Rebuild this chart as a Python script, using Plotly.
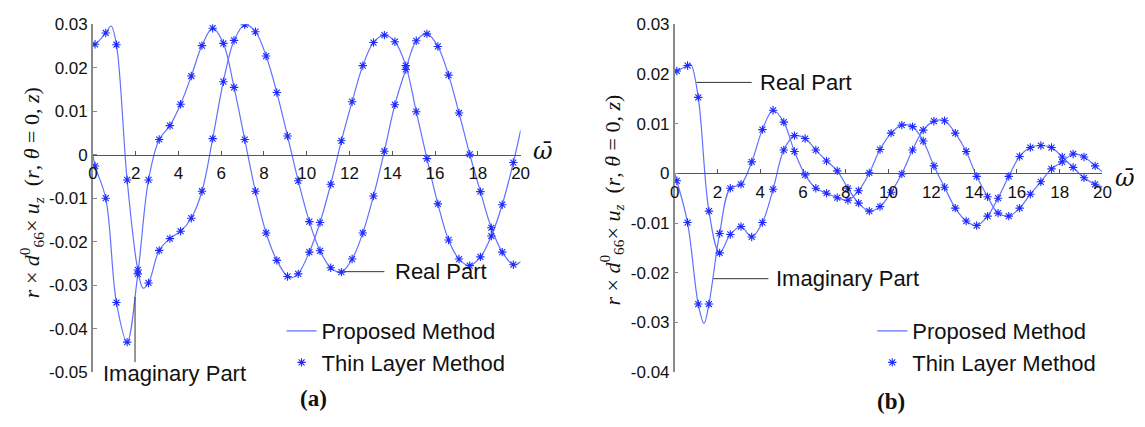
import plotly.graph_objects as go

# ---------------- data ----------------
# x positions of the Thin Layer Method markers
x_markers = [0.1, 0.6, 1.1, 1.6, 2.1, 2.6, 3.1, 3.6, 4.1, 4.6, 5.1, 5.6, 6.1, 6.6,
             7.1, 7.6, 8.1, 8.6, 9.1, 9.6, 10.12, 10.62, 11.12, 11.62, 12.12, 12.62,
             13.12, 13.63, 14.12, 14.63, 15.12, 15.62, 16.13, 16.63, 17.12, 17.62,
             18.12, 18.63, 19.14, 19.66]

# panel (a)
a_real = [0.0254, 0.0280, 0.0253, -0.0058, -0.0265, -0.0295, -0.0220, -0.0193, -0.0176, -0.0146,
          -0.0084, 0.0037, 0.0168, 0.0263, 0.0299, 0.0283, 0.0227, 0.0143, 0.0043, -0.0060,
          -0.0154, -0.0221, -0.0260, -0.0270, -0.0240, -0.0180, -0.0095, 0.0008, 0.0115, 0.0196,
          0.0262, 0.0278, 0.0249, 0.0183, 0.0096, 0.0001, -0.0085, -0.0168, -0.0224, -0.0253]
a_imag = [-0.0026, -0.0100, -0.0340, -0.0431, -0.0274, -0.0058, 0.0035, 0.0067, 0.0116, 0.0181,
          0.0251, 0.0291, 0.0256, 0.0155, 0.0035, -0.0084, -0.0180, -0.0243, -0.0280, -0.0274,
          -0.0224, -0.0156, -0.0068, 0.0032, 0.0122, 0.0205, 0.0258, 0.0275, 0.0260, 0.0205,
          0.0099, -0.0009, -0.0113, -0.0196, -0.0240, -0.0255, -0.0235, -0.0187, -0.0115, -0.0018]
# extra knots of the Proposed Method curves (ends and extrema)
a_real_extra_x = [0.0, 0.85, 2.35, 20.0]
a_real_extra_y = [0.0255, 0.0296, -0.0307, -0.0246]
a_imag_extra_x = [0.0, 9.3, 20.0]
a_imag_extra_y = [0.0000, -0.0283, 0.0056]

# panel (b)
b_real = [0.0206, 0.0217, 0.0153, -0.0076, -0.0160, -0.0123, -0.0107, -0.0128, -0.0099, -0.0032,
          0.0047, 0.0076, 0.0070, 0.0047, 0.0025, 0.0005, -0.0030, -0.0060, -0.0076, -0.0067,
          -0.0038, -0.0001, 0.0047, 0.0087, 0.0105, 0.0106, 0.0081, 0.0044, -0.0006, -0.0047,
          -0.0080, -0.0086, -0.0070, -0.0042, -0.0017, 0.0009, 0.0023, 0.0039, 0.0033, 0.0015]
b_imag = [-0.0015, -0.0099, -0.0263, -0.0263, -0.0121, -0.0030, -0.0022, 0.0023, 0.0088, 0.0127,
          0.0103, 0.0044, -0.0003, -0.0030, -0.0040, -0.0049, -0.0054, -0.0035, 0.0001, 0.0048,
          0.0081, 0.0097, 0.0094, 0.0065, 0.0015, -0.0028, -0.0070, -0.0096, -0.0105, -0.0086,
          -0.0050, -0.0006, 0.0034, 0.0052, 0.0056, 0.0052, 0.0033, 0.0012, -0.0009, -0.0022]
b_real_extra_x = [0.0, 0.75, 20.0]
b_real_extra_y = [0.0205, 0.0219, 0.0003]
b_imag_extra_x = [0.0, 1.37, 20.0]
b_imag_extra_y = [0.0000, -0.0302, -0.0027]

x_ticks = [0, 2, 4, 6, 8, 10, 12, 14, 16, 18, 20]
a_yticks = [0.03, 0.02, 0.01, 0, -0.01, -0.02, -0.03, -0.04, -0.05]
a_yticktext = ["0.03", "0.02", "0.01", "0", "-0.01", "-0.02", "-0.03", "-0.04", "-0.05"]
b_yticks = [0.03, 0.02, 0.01, 0, -0.01, -0.02, -0.03, -0.04]
b_yticktext = ["0.03", "0.02", "0.01", "0", "-0.01", "-0.02", "-0.03", "-0.04"]

# ---------------- style ----------------
W, H = 1145, 427
LINE_C = "#6270ff"
MARK_C = "#1e2cff"
SANS = "Liberation Sans, Arial, sans-serif"
SERIF = "Liberation Serif, Times New Roman, serif"


def merge(xm, ym, xe, ye):
    pts = sorted(list(zip(xm, ym)) + list(zip(xe, ye)))
    return [p[0] for p in pts], [p[1] for p in pts]


fig = go.Figure()


def add_panel(xa, ya, legend, real, imag, rex, rey, iex, iey):
    for k, (ys, ex, ey) in enumerate([(real, rex, rey), (imag, iex, iey)]):
        lx, ly = merge(x_markers, ys, ex, ey)
        fig.add_trace(go.Scatter(
            x=lx, y=ly, mode="lines", xaxis=xa, yaxis=ya,
            line=dict(color=LINE_C, width=1.2, shape="spline", smoothing=1.0),
            name="Proposed Method", legend=legend, showlegend=(k == 0)))
    for k, ys in enumerate([real, imag]):
        fig.add_trace(go.Scatter(
            x=x_markers, y=ys, mode="markers", xaxis=xa, yaxis=ya,
            marker=dict(symbol="asterisk-open", size=7, color=MARK_C,
                        line=dict(color=MARK_C, width=1.1)),
            name="Thin Layer Method", legend=legend, showlegend=(k == 0)))


add_panel("x", "y", "legend", a_real, a_imag, a_real_extra_x, a_real_extra_y,
          a_imag_extra_x, a_imag_extra_y)
add_panel("x2", "y2", "legend2", b_real, b_imag, b_real_extra_x, b_real_extra_y,
          b_imag_extra_x, b_imag_extra_y)

# domains (pixels -> paper)
a_xdom = [89 / W, 522 / W]
b_xdom = [678 / W, 1111 / W]
ydom = [1 - 380 / H, 1 - 16 / H]
a_range = [-0.05, 0.03]
b_range = [-0.04, 0.03]


def zero_pos(rng):
    return ydom[0] + (0 - rng[0]) / (rng[1] - rng[0]) * (ydom[1] - ydom[0])


def xaxis_cfg(dom, rng):
    return dict(domain=dom, range=[0, 20], anchor="free", position=zero_pos(rng),
                tickvals=x_ticks, ticks="inside", ticklen=4, tickcolor="#555",
                showline=True, linecolor="#555", linewidth=1, showgrid=False,
                zeroline=False, ticklabelstandoff=3,
                tickfont=dict(family=SANS, size=17, color="#111"))


def yaxis_cfg(rng, vals, text, anchor):
    return dict(domain=ydom, range=rng, anchor=anchor, tickvals=vals, ticktext=text,
                ticks="inside", ticklen=4, tickcolor="#888", showline=True,
                linecolor="#8a8a8a", linewidth=1.5, showgrid=False, zeroline=False,
                tickfont=dict(family=SANS, size=17, color="#111"))


ytitle = ("<i>r</i> × <i>d</i><sup>0</sup><sub>66</sub>× <i>u</i><sub><i>z</i></sub>"
          "  (<i>r</i>, <i>θ</i> = 0, <i>z</i>)")

C = dict(xanchor="center", yanchor="middle", showarrow=False)
annotations = [
    # y-axis titles
    dict(text=ytitle, xref="paper", yref="paper", x=27 / W, y=1 - 192 / H, textangle=-90,
         font=dict(family=SERIF, size=22, color="#111"), **C),
    dict(text=ytitle, xref="paper", yref="paper", x=614 / W, y=1 - 200 / H, textangle=-90,
         font=dict(family=SERIF, size=22, color="#111"), **C),
    # x-axis titles
    dict(text="<i>ω̄</i>", xref="paper", yref="paper", x=545 / W, y=1 - 149 / H,
         font=dict(family="DejaVu Serif", size=24, color="#111"), **C),
    dict(text="<i>ω̄</i>", xref="paper", yref="paper", x=1134 / W, y=1 - 177 / H,
         font=dict(family="DejaVu Serif", size=24, color="#111"), **C),
    # panel labels
    dict(text="<b>(a)</b>", xref="paper", yref="paper", x=312 / W, y=1 - 408 / H,
         font=dict(family=SERIF, size=23, color="#111"), **C),
    dict(text="<b>(b)</b>", xref="paper", yref="paper", x=897 / W, y=1 - 411 / H,
         font=dict(family=SERIF, size=23, color="#111"), **C),
]
L = dict(xanchor="left", yanchor="middle", showarrow=False,
         font=dict(family=SANS, size=22, color="#111"))
annotations += [
    # curve labels
    dict(text="Real Part", xref="x", yref="y", x=14.04, y=-0.0269, **L),
    dict(text="Imaginary Part", xref="x", yref="paper", x=0.37, y=1 - 381 / H, **L),
    dict(text="Real Part", xref="x2", yref="y2", x=3.88, y=0.0183, **L),
    dict(text="Imaginary Part", xref="x2", yref="y2", x=4.66, y=-0.0212, **L),
]

LEAD = dict(color="#333", width=1)
shapes = [
    dict(type="line", xref="x", yref="y", x0=11.73, y0=-0.0269, x1=13.63, y1=-0.0269, line=LEAD),
    dict(type="line", xref="x", yref="y", x0=1.97, y0=-0.0327, x1=1.97, y1=-0.0477, line=LEAD),
    dict(type="line", xref="x2", yref="y2", x0=1.02, y0=0.0183, x1=3.6, y1=0.0183, line=LEAD),
    dict(type="line", xref="x2", yref="y2", x0=1.8, y0=-0.0212, x1=4.38, y1=-0.0212, line=LEAD),
]

leg_common = dict(xanchor="left", yanchor="top", bgcolor="rgba(0,0,0,0)", borderwidth=0,
                  font=dict(family=SANS, size=22, color="#111"), tracegroupgap=0,
                  itemwidth=30)

fig.update_layout(
    width=W, height=H, autosize=False,
    margin=dict(l=0, r=0, t=0, b=0),
    paper_bgcolor="white", plot_bgcolor="white",
    xaxis=xaxis_cfg(a_xdom, a_range),
    yaxis=yaxis_cfg(a_range, a_yticks, a_yticktext, "x"),
    xaxis2=xaxis_cfg(b_xdom, b_range),
    yaxis2=yaxis_cfg(b_range, b_yticks, b_yticktext, "x2"),
    legend=dict(x=280 / W, y=1 - 315 / H, **leg_common),
    legend2=dict(x=878 / W, y=1 - 315 / H, **leg_common),
    annotations=annotations,
    shapes=shapes,
)

fig.write_html("out.html", config={"displayModeBar": False},
               post_script="document.body.style.margin='0';document.body.style.overflow='hidden';")
